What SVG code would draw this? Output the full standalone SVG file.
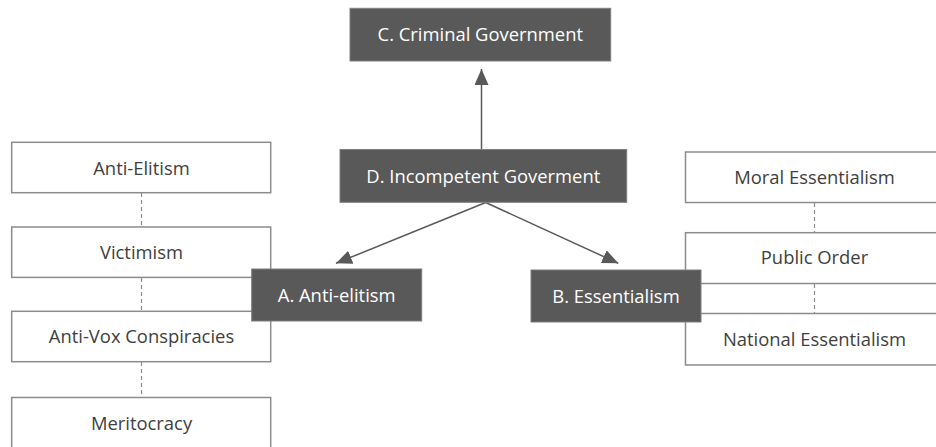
<svg xmlns="http://www.w3.org/2000/svg" width="936" height="447" viewBox="0 0 936 447">
<style>
.dark rect{fill:#595959;stroke:#7f7f7f;stroke-width:1}
.dark text{fill:#ffffff;font-family:"Open Sans","Noto Sans",sans-serif;font-size:18.4px;text-anchor:middle;dominant-baseline:central}
.light rect{fill:#ffffff;stroke:#8c8c8c;stroke-width:1.5}
.light text{fill:#404040;font-family:"Open Sans","Noto Sans",sans-serif;font-size:18.4px;text-anchor:middle;dominant-baseline:central}
.dash{stroke:#8c8c8c;stroke-width:1.2;stroke-dasharray:4,3;fill:none}
.conn{stroke:#595959;stroke-width:1.5;fill:none;marker-end:url(#ah)}
</style>
<defs>
<marker id="ah" viewBox="0 0 16 14" refX="16" refY="7" markerWidth="16" markerHeight="14" markerUnits="userSpaceOnUse" orient="auto">
<path d="M0,0 L16,7 L0,14 z" fill="#595959"/>
</marker>
</defs>
<g id="connectors">
<line class="dash" x1="141.5" y1="193" x2="141.5" y2="227"/>
<line class="dash" x1="141.5" y1="278" x2="141.5" y2="311"/>
<line class="dash" x1="141.5" y1="362" x2="141.5" y2="397"/>
<line class="dash" x1="814.5" y1="203" x2="814.5" y2="233"/>
<line class="dash" x1="814.5" y1="284" x2="814.5" y2="313"/>
<line class="conn" x1="481.5" y1="149" x2="481.5" y2="69"/>
<line class="conn" x1="485.7" y1="202.5" x2="336" y2="263.3"/>
<line class="conn" x1="485.7" y1="202.5" x2="618.3" y2="263.3"/>
</g>
<g id="n-anti-elitism-1" class="light"><rect x="11.7" y="142.3" width="259" height="50.4"/><text x="141.5" y="167.5">Anti-Elitism</text></g>
<g id="n-victimism" class="light"><rect x="11.7" y="227" width="259" height="50.4"/><text x="141.5" y="251.5">Victimism</text></g>
<g id="n-antivox" class="light"><rect x="11.7" y="311.3" width="259" height="50.4"/><text x="141.5" y="335.5">Anti-Vox Conspiracies</text></g>
<g id="n-meritocracy" class="light"><rect x="11.7" y="397.5" width="259" height="60"/><text x="141.5" y="422">Meritocracy</text></g>
<g id="n-moral" class="light"><rect x="685.5" y="152" width="260" height="50.5"/><text x="814.5" y="176.5">Moral Essentialism</text></g>
<g id="n-public" class="light"><rect x="685.5" y="232.7" width="260" height="50.8"/><text x="814.5" y="256.5">Public Order</text></g>
<g id="n-national" class="light"><rect x="685.5" y="313.5" width="260" height="51.5"/><text x="814.5" y="338.5">National Essentialism</text></g>
<g id="n-c" class="dark"><rect x="350" y="8.3" width="260.7" height="52.7"/><text x="480.3" y="33.5">C. Criminal Government</text></g>
<g id="n-d" class="dark"><rect x="340" y="149.5" width="286.7" height="52.8"/><text x="483.3" y="175">D. Incompetent Goverment</text></g>
<g id="n-a" class="dark"><rect x="251.7" y="269" width="170" height="52"/><text x="336.7" y="294.5">A. Anti-elitism</text></g>
<g id="n-b" class="dark"><rect x="531" y="270" width="170" height="52"/><text x="616" y="295.5">B. Essentialism</text></g>
</svg>
